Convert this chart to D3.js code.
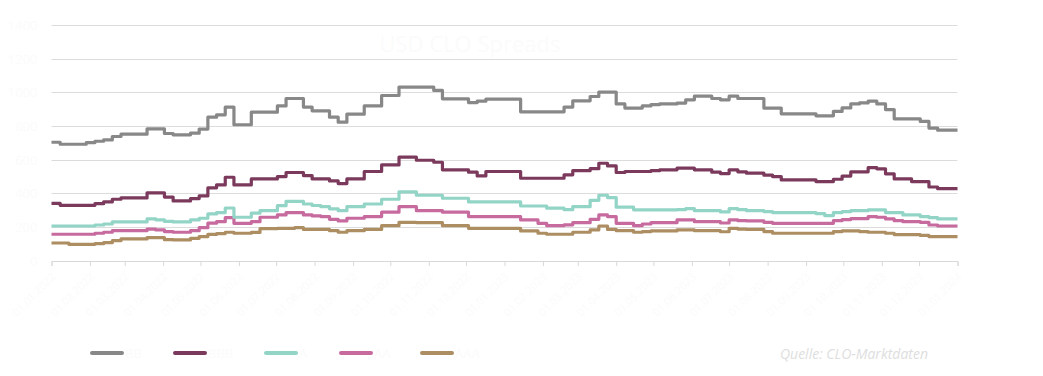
<!DOCTYPE html>
<html>
<head>
<meta charset="utf-8">
<script src="https://cdn.jsdelivr.net/npm/d3@7"></script>
<style>
  body { margin: 0; background: #fff; font-family: "Open Sans", sans-serif; }
  svg text { font-family: "Open Sans", sans-serif; }
</style>
</head>
<body>
<div id="chart"></div>
<script>
// weekly spread readings (bps), starting 01.01.2022
var startDate = new Date(2022, 0, 1)
var endDate = new Date(2024, 0, 1)

var ratings = ['BB', 'BBB', 'A', 'AA', 'AAA']
var colors = ['#888888', '#7b3a5c', '#92d5c6', '#c76b9f', '#ad8e62']

var bb = [706,694,694,694,704,712,720,740,754,754,
  754,786,786,758,750,750,760,784,855,869,
  915,810,810,885,885,885,922,966,966,915,
  893,893,855,825,873,873,922,922,984,984,
  1034,1034,1034,1034,1014,964,964,964,942,950,
  962,962,962,962,887,887,887,887,887,915,
  952,952,978,1004,1004,934,909,909,922,930,
  934,934,939,958,980,980,966,958,980,966,
  966,966,909,909,875,875,875,875,863,863,
  889,910,934,940,950,934,900,845,845,845,
  830,790,778,778,778]

var bbb = [343,331,331,331,331,341,351,367,375,375,
  375,405,405,380,357,357,371,387,435,452,
  498,452,452,488,488,488,502,526,526,508,
  488,488,476,460,488,488,532,532,571,571,
  617,617,599,599,587,542,542,542,528,506,
  532,532,532,532,492,492,492,492,492,512,
  537,537,549,581,565,526,532,532,532,537,
  542,542,552,552,542,542,528,520,542,530,
  522,522,510,502,482,482,482,482,472,472,
  486,505,530,530,555,548,518,488,488,472,
  472,440,430,430,430]

var a = [208,208,208,208,208,214,220,232,232,232,
  232,250,245,235,232,232,244,254,280,288,
  315,260,260,285,299,299,329,355,355,339,
  330,323,310,299,323,323,339,339,367,367,
  411,411,391,391,391,373,373,373,351,351,
  351,351,351,351,327,327,327,314,314,305,
  323,323,361,391,377,320,320,304,304,304,
  304,304,306,311,299,299,299,292,311,305,
  299,299,294,288,288,288,288,288,282,270,
  288,294,299,299,304,304,288,288,274,274,
  264,258,250,250,250]

var aa = [159,159,159,159,159,165,171,180,180,180,
  180,190,185,175,171,171,180,198,225,234,
  258,224,224,234,260,260,274,288,288,274,
  268,264,248,238,254,254,264,264,290,290,
  323,323,299,299,299,290,290,290,264,264,
  264,264,264,264,244,244,224,210,210,215,
  228,228,248,274,264,224,224,210,220,228,
  228,228,244,244,234,234,234,226,244,240,
  238,238,230,224,224,224,224,224,224,224,
  240,246,252,252,264,260,250,240,234,234,
  230,214,208,208,208]

var aaa = [107,107,99,99,99,103,109,121,131,131,
  131,139,139,127,125,125,135,145,158,163,
  171,165,165,170,192,192,194,194,198,188,
  188,188,180,171,180,180,188,188,210,210,
  230,230,228,228,228,210,210,210,194,194,
  194,194,194,194,179,179,165,159,159,159,
  171,171,185,208,188,180,180,171,175,179,
  179,179,185,185,180,180,180,174,194,190,
  188,188,175,165,165,165,165,165,165,165,
  175,179,179,175,171,171,165,157,157,157,
  152,145,145,145,145]

var yTicks = [0, 200, 400, 600, 800, 1000, 1200, 1400]

var seriesValues = [bb, bbb, a, aa, aaa]

var width = 1043, height = 376
var margin = {left: 51.5, right: 85.5, top: 25.5, bottom: 115}
var innerW = width - margin.left - margin.right
var innerH = 261 - margin.top

var faint = '#fbfbfb'

var svg = d3.select('#chart').append('svg')
  .attr('width', width).attr('height', height)

var g = svg.append('g').attr('transform', `translate(${margin.left},${margin.top})`)

var x = d3.scaleTime().domain([startDate, endDate]).range([0, innerW])
var y = d3.scaleLinear().domain([0, 1400]).range([innerH, 0])

// grid
g.selectAll('line.grid').data(yTicks.slice(1)).join('line')
  .attr('class', 'grid')
  .attr('x1', 0).attr('x2', innerW)
  .attr('y1', d => Math.round(y(d))).attr('y2', d => Math.round(y(d)))
  .attr('stroke', '#dcdcdc').attr('stroke-width', 1)

// y labels (nearly white, as in the source)
g.selectAll('text.ylab').data(yTicks).join('text')
  .attr('class', 'ylab')
  .attr('x', -14).attr('y', d => y(d))
  .attr('dy', '0.35em')
  .attr('text-anchor', 'end')
  .attr('font-size', 13)
  .attr('fill', faint)
  .text(d => d)

// x axis
var xAxis = d3.axisBottom(x)
  .ticks(d3.timeMonth.every(1))
  .tickSize(5)
  .tickFormat(d3.timeFormat('%d.%m.%Y'))

var xg = g.append('g').attr('transform', `translate(0,${innerH})`).call(xAxis)
xg.select('.domain').attr('stroke', '#d9d9d9')
xg.selectAll('.tick line').attr('stroke', '#d9d9d9')
xg.selectAll('.tick text')
  .attr('fill', faint)
  .attr('font-size', 11)
  .attr('text-anchor', 'end')
  .attr('transform', 'translate(-4,8) rotate(-45)')
  .attr('dy', '0.35em')

// title inside plot (nearly invisible in source)
g.append('text')
  .attr('x', 470 - margin.left).attr('y', 52 - margin.top)
  .attr('text-anchor', 'middle')
  .attr('font-size', 22)
  .attr('fill', faint)
  .text('USD CLO Spreads')

// lines
var line = d3.line()
  .x(d => x(d.date))
  .y(d => y(d.value))
  .curve(d3.curveStepAfter)

var series = ratings.map((name, k) => {
  var vals = seriesValues[k]
  var pts = vals.map((v, i) => ({date: d3.timeDay.offset(startDate, 7*i), value: v}))
  pts.push({date: endDate, value: vals[vals.length - 1]})
  return {name, color: colors[k], pts}
})

g.selectAll('path.series').data(series.slice().reverse()).join('path')
  .attr('class', 'series')
  .attr('d', d => line(d.pts))
  .attr('fill', 'none')
  .attr('stroke', d => d.color)
  .attr('stroke-width', 3.2)
  .attr('stroke-linejoin', 'round')

// legend
var legendX = [92, 175, 266, 341, 422]
var leg = svg.selectAll('g.leg').data(series).join('g')
  .attr('class', 'leg')
  .attr('transform', (d, i) => `translate(${legendX[i]},353)`)

leg.append('line')
  .attr('x1', 0).attr('x2', 30)
  .attr('stroke', d => d.color)
  .attr('stroke-width', 4)
  .attr('stroke-linecap', 'round')

leg.append('text')
  .attr('x', 33).attr('dy', '0.35em')
  .attr('font-size', 13)
  .attr('fill', faint)
  .text(d => d.name)

// source
svg.append('text')
  .attr('x', 928).attr('y', 354)
  .attr('dy', '0.35em')
  .attr('text-anchor', 'end')
  .attr('font-size', 14)
  .attr('font-style', 'italic')
  .attr('fill', '#dedede')
  .text('Quelle: CLO-Marktdaten')
</script>
</body>
</html>
